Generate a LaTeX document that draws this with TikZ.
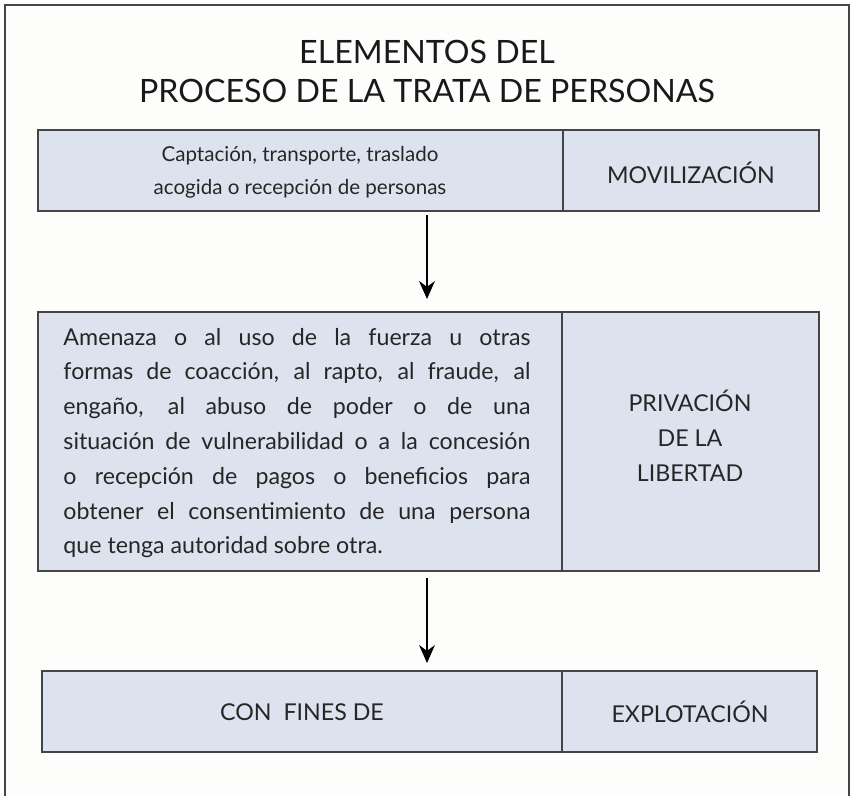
\documentclass[tikz,border=0pt]{standalone}
\usepackage{fontspec}
\setmainfont{Lato}
\usetikzlibrary{arrows.meta}
\definecolor{boxfill}{HTML}{DCE2EE}
\definecolor{boxline}{HTML}{454547}
\definecolor{paper}{HTML}{FDFDFB}
\begin{document}
\begin{tikzpicture}[x=0.0333333cm, y=-0.0333333cm,
	cell/.style={draw=boxline, line width=1.1pt, fill=boxfill},
	rule/.style={draw=boxline, line width=1.1pt},
	flow/.style={line width=2pt, -{Stealth[length=17pt,width=15pt]}},
	big/.style={font=\fontsize{30.5}{34}\selectfont, text=black!90},
	body/.style={font=\fontsize{22}{33}\selectfont, text=black!85}]
	\useasboundingbox (0,0) rectangle (851,796);
	\fill[paper] (0,0) rectangle (851,796);
	\draw[boxline, line width=1.2pt] (5,796) -- (5,5) -- (849,5) -- (849,796);
	\node[big] (title1) at (427,52) {ELEMENTOS DEL};
	\node[big] (title2) at (427,91) {PROCESO DE LA TRATA DE PERSONAS};
	\coordinate (A1) at (38,130);
	\coordinate (B1) at (819,211);
	\draw[cell] (A1) rectangle (B1);
	\draw[rule] (563,130) -- (563,211);
	\node[body, font=\fontsize{19.5}{31}\selectfont, align=center] (captacion) at (300,172) {Captación, transporte, traslado\\acogida o recepción de personas};
	\node[body] (movil) at (691,173) {MOVILIZACIÓN};
	\coordinate (A2) at (38,312);
	\coordinate (B2) at (819,571);
	\draw[cell] (A2) rectangle (B2);
	\draw[rule] (562,312) -- (562,571);
	\node[body, text width=15.57cm, align=justify, inner sep=0pt] (amenaza) at (297,443) {Amenaza o al uso de la fuerza u otras\linebreak formas de coacción, al rapto, al fraude, al\linebreak engaño, al abuso de poder o de una\linebreak situación de vulnerabilidad o a la concesión\linebreak o recepción de pagos o beneficios para\linebreak obtener el consentimiento de una persona\linebreak que tenga autoridad sobre otra.};
	\node[body, align=center] (privacion) at (690,436) {PRIVACIÓN\\DE LA\\LIBERTAD};
	\coordinate (A3) at (42,671);
	\coordinate (B3) at (817,752);
	\draw[cell] (A3) rectangle (B3);
	\draw[rule] (562,671) -- (562,752);
	\node[body] (fines) at (302,712) {CON\ \ FINES DE};
	\node[body] (explot) at (690,712) {EXPLOTACIÓN};
	\coordinate (s1) at (427,215);
	\coordinate (e1) at (427,299);
	\coordinate (s2) at (427,578);
	\coordinate (e2) at (427,663);
	\draw[flow] (s1) -- (e1);
	\draw[flow] (s2) -- (e2);
\end{tikzpicture}
\end{document}
